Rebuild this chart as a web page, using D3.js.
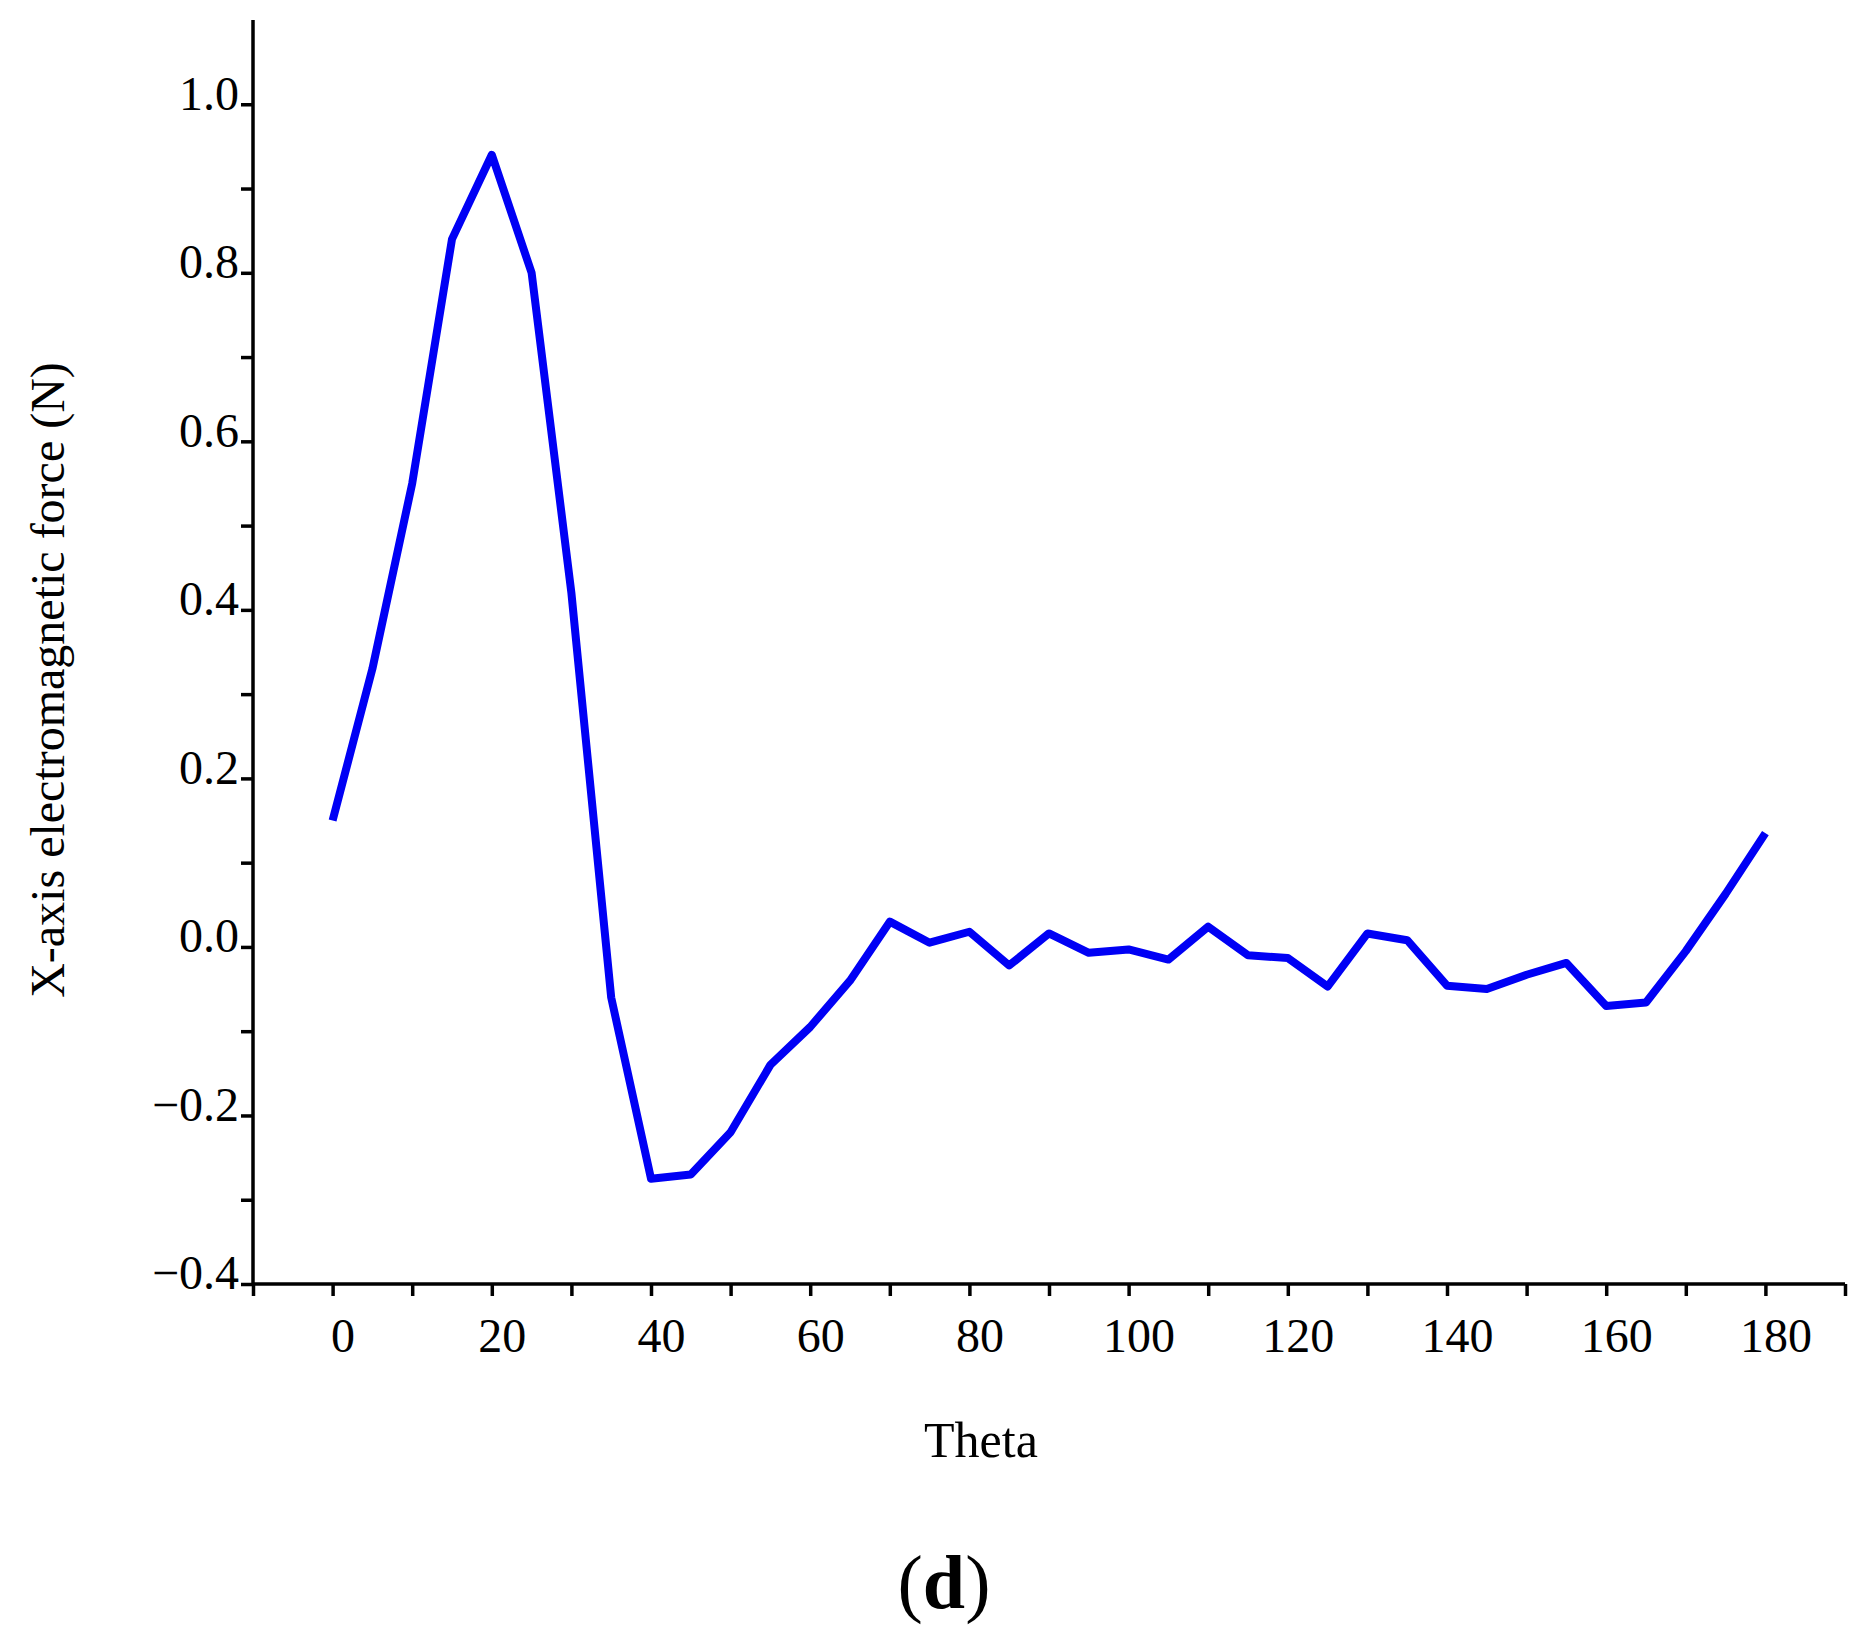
<!DOCTYPE html>
<html><head><meta charset="utf-8">
<script src="https://cdn.jsdelivr.net/npm/d3@7"></script>
<style>body{margin:0;background:#fff}text{font-family:"Liberation Serif","Times New Roman",serif}</style>
</head><body><svg width="1863" height="1641"></svg>
<script>
const theta = d3.range(0, 181, 5);
const force = [0.15,0.33,0.55,0.84,0.94,0.80,0.42,-0.06,-0.275,-0.27,-0.22,-0.14,-0.095,-0.04,0.03,0.005,0.018,-0.022,0.016,-0.007,-0.003,-0.015,0.024,-0.01,-0.013,-0.047,0.016,0.008,-0.046,-0.05,-0.033,-0.019,-0.07,-0.066,-0.005,0.063,0.135];
const xLabels = d3.range(0, 181, 20);
const yLabels = d3.range(-0.4, 1.01, 0.2);

const svg = d3.select('svg');
const x = d3.scaleLinear().domain([-10,190]).range([253,1845]);
const y = d3.scaleLinear().domain([-0.4,1.1]).range([1284,20]);

const xa = svg.append('g').attr('transform','translate(0,1284)')
  .call(d3.axisBottom(x).tickValues(d3.range(-10,191,10)).tickSize(12).tickFormat(d => xLabels.includes(d) ? d : ''));
const ya = svg.append('g').attr('transform','translate(253,0)')
  .call(d3.axisLeft(y).tickValues(d3.range(-4,11,1).map(d=>d/10)).tickSize(12)
    .tickFormat(d => Math.round(d*10)%2===0 ? d3.format('.1f')(d).replace('-','\u2212') : ''));
[xa,ya].forEach(a=>{
  a.select('.domain').attr('stroke','#000').attr('stroke-width',3.5);
  a.selectAll('line').attr('stroke','#000').attr('stroke-width',3.5);
  a.selectAll('text').attr('font-size',48).attr('fill','#000').attr('font-family','Liberation Serif');
});
ya.select('.domain').attr('d','M0,1284V20');
xa.select('.domain').attr('d','M253,0H1845');
xa.selectAll('text').attr('dy','1.1em').attr('dx',10);
ya.selectAll('text').attr('x',-14).attr('dy','0.1em');

svg.append('path').datum(theta.map((t,i)=>[t,force[i]]))
  .attr('fill','none').attr('stroke','#0000f5').attr('stroke-width',8).attr('stroke-linejoin','round')
  .attr('d', d3.line().x(d=>x(d[0])).y(d=>y(d[1])));

svg.append('text').attr('x',981).attr('y',1457).attr('text-anchor','middle').attr('font-size',50).text('Theta');
svg.append('text').attr('transform','translate(64,680) rotate(-90)').attr('text-anchor','middle').attr('font-size',48).text('X-axis electromagnetic force  (N)');
const lab = svg.append('text').attr('x',944).attr('y',1608).attr('text-anchor','middle').attr('font-size',76);
lab.append('tspan').text('(');
lab.append('tspan').attr('font-weight','bold').text('d');
lab.append('tspan').text(')');
</script></body></html>
